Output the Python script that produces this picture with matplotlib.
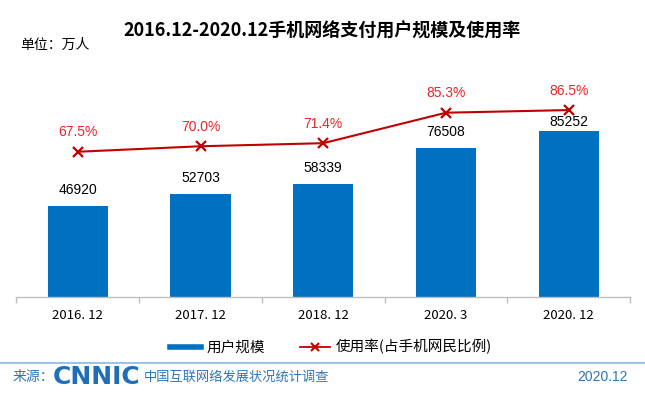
import matplotlib
matplotlib.use("Agg")
import matplotlib.pyplot as plt
from matplotlib.lines import Line2D
import numpy as np

plt.rcParams['font.family'] = ['Noto Sans CJK SC', 'DejaVu Sans']

categories = ["2016. 12", "2017. 12", "2018. 12", "2020. 3", "2020. 12"]
users = [46920, 52703, 58339, 76508, 85252]
rates = [67.5, 70.0, 71.4, 85.3, 86.5]
title = "2016.12-2020.12手机网络支付用户规模及使用率"
unit = "单位：万人"
legend_labels = ["用户规模", "使用率(占手机网民比例)"]

BAR = '#0070C0'
LINE = '#C00000'
LBL_RED = '#E8262B'
FOOT = '#2E75B6'

# label offsets (points) above bar tops; last one pushed down to clear the line
bar_label_offsets = [11.5, 11.5, 11.0, 11.5, 6.5]

W, H = 645, 396
fig = plt.figure(figsize=(W / 100, H / 100), dpi=100)

left, right = 16.5, 630
top, bottom = 60, 296.7
ax = fig.add_axes([left / W, 1 - bottom / H, (right - left) / W, (bottom - top) / H])
ax.patch.set_alpha(0)
x = np.arange(len(categories))
ax.bar(x, users, width=0.49, color=BAR, zorder=2)
ax.set_xlim(-0.5, len(categories) - 0.5)
ax.set_ylim(0, 122000)
for xi, v, off in zip(x, users, bar_label_offsets):
    ax.annotate(f"{v}", (xi, v), xytext=(0, off), textcoords='offset points',
                ha='center', va='center', fontsize=10, family='Liberation Sans',
                color='black')

for s in ['top', 'right', 'left']:
    ax.spines[s].set_visible(False)
ax.spines['bottom'].set_color('#BFBFBF')
ax.spines['bottom'].set_linewidth(1)
ax.set_yticks([])
ax.set_xticks(x)
ax.set_xticklabels(categories, fontsize=9.5)
ax.tick_params(axis='x', which='major', length=0, pad=9)
ax.set_xticks(np.arange(-0.5, len(categories)), minor=True)
ax.tick_params(axis='x', which='minor', length=4, color='#BFBFBF', width=1)

ax2 = ax.twinx()
ax2.patch.set_alpha(0)
ax2.plot(x, rates, color=LINE, lw=1.5, marker='x', markersize=7, mew=1.6, zorder=3)
ax2.set_ylim(1.4, 1.4 + (bottom - top) / 2.193)
ax2.set_yticks([])
for s in ['top', 'right', 'left', 'bottom']:
    ax2.spines[s].set_visible(False)
for xi, r in zip(x, rates):
    ax2.annotate(f"{r:.1f}%", (xi, r), xytext=(0, 14), textcoords='offset points',
                 ha='center', va='center', fontsize=10, family='Liberation Sans',
                 color=LBL_RED)

fig.text(322 / W, 1 - 31 / H, title, ha='center', va='center', fontsize=13,
         fontweight='bold', color='black')
fig.text(20 / W, 1 - 45 / H, unit, ha='left', va='center', fontsize=10, color='black')

handles = [Line2D([0], [0], color=BAR, lw=4),
           Line2D([0], [0], color=LINE, lw=1.3, marker='x', markersize=6, mew=1.5)]
fig.legend(handles, legend_labels, loc='center', bbox_to_anchor=(331 / W, 1 - 347 / H),
           ncol=2, frameon=False, fontsize=10.5, handlelength=2.1, handletextpad=0.35,
           columnspacing=2.4)

# footer
fig.add_artist(Line2D([0, 1], [1 - 362.7 / H] * 2, color='#9DC3E6', lw=1.5,
                      transform=fig.transFigure))
fig.text(13 / W, 1 - 377 / H, "来源：", ha='left', va='center', fontsize=10, color=FOOT)
fig.text(53 / W, 1 - 377 / H, "CNNIC", ha='left', va='center', fontsize=18,
         fontweight='bold', family='DejaVu Sans', color='#1F6FB8')
fig.text(144 / W, 1 - 377 / H, "中国互联网络发展状况统计调查", ha='left', va='center',
         fontsize=9.5, color=FOOT)
fig.text(628 / W, 1 - 377 / H, "2020.12", ha='right', va='center', fontsize=10,
         family='Liberation Sans', color=FOOT)

fig.savefig("out.png", dpi=100)
